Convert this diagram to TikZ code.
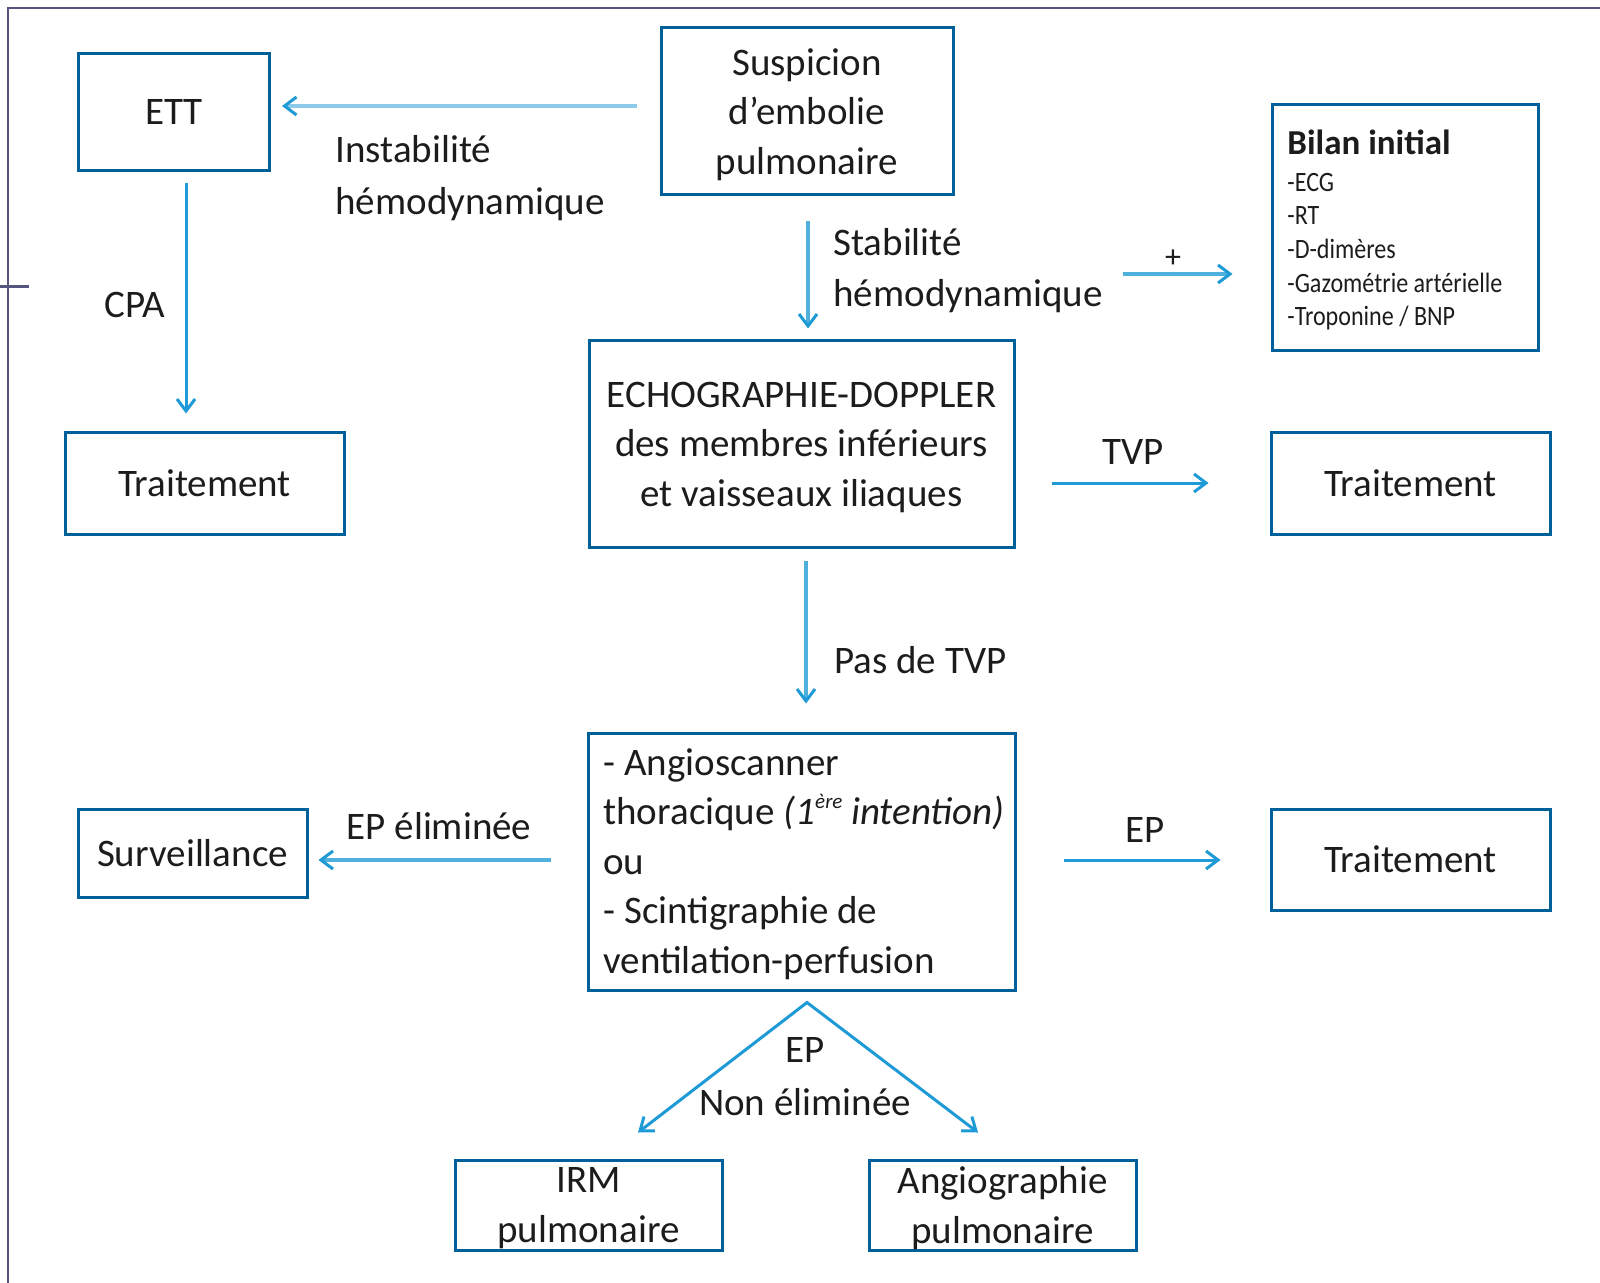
\documentclass[tikz,border=0pt]{standalone}
\usepackage{fontspec}
\setmainfont{Carlito}
\newfontfamily\narrowfont[FakeStretch=0.86]{Carlito}
\usetikzlibrary{arrows.meta}
\definecolor{boxblue}{HTML}{00619A}
\definecolor{arrowblue}{HTML}{1E9AD6}
\definecolor{softblue}{HTML}{4FAFDD}
\definecolor{paleblue}{HTML}{8DC9E8}
\definecolor{framegray}{HTML}{55557F}
\definecolor{ink}{HTML}{1C1C1C}
\newcommand{\supsmall}[1]{\raisebox{0.42em}{\fontsize{10.5pt}{11pt}\selectfont #1}}

\begin{document}
\begin{tikzpicture}[x=0.5pt,y=-0.5pt,
  every node/.style={text=ink, font=\fontsize{19.5pt}{24.75pt}\selectfont},
  box/.style={draw=boxblue, line width=1.5pt, inner sep=0pt, align=center, text depth=0pt},
  tipA/.style={-{Straight Barb[length=6pt,width=9pt,line width=1.5pt,color=arrowblue]}},
  arrow/.style={draw=arrowblue, line width=1.5pt, tipA},
  softarrow/.style={draw=softblue, line width=1.9pt, tipA},
  palearrow/.style={draw=paleblue, line width=2.3pt, tipA},
  lbl/.style={inner sep=0pt, anchor=base},
  lblw/.style={inner sep=0pt, anchor=base west, align=left},
]
\useasboundingbox (0,0) rectangle (1600,1283);

% page frame
\draw[framegray, line width=1.25pt] (8,1283) -- (8,8) -- (1600,8);
\draw[framegray, line width=1.25pt] (0,286.5) -- (29,286.5);

% boxes
\node[box, minimum width=95.5pt, minimum height=58.5pt] (ett) at (174,112) {ETT};
\node[box, minimum width=146pt, minimum height=83.5pt] (susp) at (807,111.5)
  {Suspicion\\d’embolie\\pulmonaire};
\node[box, minimum width=133pt, minimum height=123pt] (bilan) at (1405,228) {};
\node[lblw, font=\narrowfont\fontsize{14pt}{16.85pt}\selectfont] (bilantxt) at (1287,326)
  {{\normalfont\fontsize{17.5pt}{18pt}\selectfont\bfseries Bilan initial}\\[1.65pt]
   -ECG\\-RT\\-D-dimères\\-Gazométrie artérielle\\-Troponine / BNP};
\node[box, minimum width=139.5pt, minimum height=51pt] (trtL) at (204.5,483) {Traitement};
\node[box, minimum width=212.5pt, minimum height=103pt] (echo) at (801.5,444)
  {ECHOGRAPHIE-DOPPLER\\des membres inférieurs\\et vaisseaux iliaques};
\node[box, minimum width=139.5pt, minimum height=51pt] (trtR1) at (1410.5,483) {Traitement};
\node[box, minimum width=213.5pt, minimum height=128.5pt] (angio) at (801.5,861.5) {};
\node[lblw] (angiotxt) at (603,973)
  {- Angioscanner\\thoracique \textit{(1\supsmall{ère} intention)}\\ou\\- Scintigraphie de\\ventilation-perfusion};
\node[box, minimum width=114.5pt, minimum height=44pt] (surv) at (192.5,853) {Surveillance};
\node[box, minimum width=139.5pt, minimum height=50.5pt] (trtR2) at (1410.5,859.5) {Traitement};
\node[box, minimum width=133.5pt, minimum height=45pt] (irm) at (588.5,1205) {IRM\\pulmonaire};
\node[box, minimum width=133.5pt, minimum height=45pt] (angiog) at (1002.5,1205) {Angiographie\\pulmonaire};

% labels (base anchor of a multi-line label is its last line)
\node[lblw, font=\fontsize{19.5pt}{26pt}\selectfont] (instab) at (335,215) {Instabilité\\hémodynamique};
\node[lbl] (cpa) at (135,318) {CPA};
\node[lblw, font=\fontsize{19.5pt}{25.5pt}\selectfont] (stab) at (833,307) {Stabilité\\hémodynamique};
\node[lbl, font=\fontsize{16pt}{18pt}\selectfont] (plus) at (1173,268) {+};
\node[lbl] (tvp) at (1133,464) {TVP};
\node[lblw] (pastvp) at (834,673) {Pas de TVP};
\node[lbl] (epelim) at (439,839) {EP éliminée};
\node[lbl] (ep) at (1145,842) {EP};
\node[lbl, align=center, font=\fontsize{19.5pt}{26.5pt}\selectfont] (epnon) at (805,1115) {EP\\Non éliminée};

% connectors
\draw[palearrow, shorten <=11.5pt, shorten >=5.5pt] ([yshift=2.75pt]susp.west) -- ([yshift=3pt]ett.east);
\draw[arrow, shorten <=5.75pt, shorten >=8.5pt] ([xshift=6pt]ett.south) -- ([xshift=-9.25pt]trtL.north);
\draw[softarrow, shorten <=12.5pt, shorten >=5.5pt] ([xshift=0.5pt]susp.south) -- ([xshift=3.25pt]echo.north);
\coordinate (plusstart) at (1123,274);
\draw[softarrow, shorten >=19pt] (plusstart) -- (plusstart -| bilan.west);
\draw[arrow, shorten <=18pt, shorten >=30.5pt] (echo.east |- trtR1.west) -- (trtR1.west);
\draw[softarrow, shorten <=6pt, shorten >=14pt] ([xshift=2.25pt]echo.south) -- ([xshift=2.25pt]angio.north);
\draw[softarrow, shorten <=18pt, shorten >=5pt] ([yshift=0.75pt]angio.west) -- ([yshift=-3.5pt]surv.east);
\draw[arrow, shorten <=23.5pt, shorten >=24.5pt] ([yshift=0.75pt]angio.east) -- ([yshift=-0.25pt]trtR2.west);
\draw[draw=arrowblue, line width=1.5pt,
  {Straight Barb[length=6pt,width=9pt]}-{Straight Barb[length=6pt,width=9pt]}]
  ([xshift=24.75pt,yshift=13pt]irm.north) -- ([xshift=2.75pt,yshift=-5.5pt]angio.south)
  -- ([xshift=-12.25pt,yshift=13pt]angiog.north);
\end{tikzpicture}
\end{document}
